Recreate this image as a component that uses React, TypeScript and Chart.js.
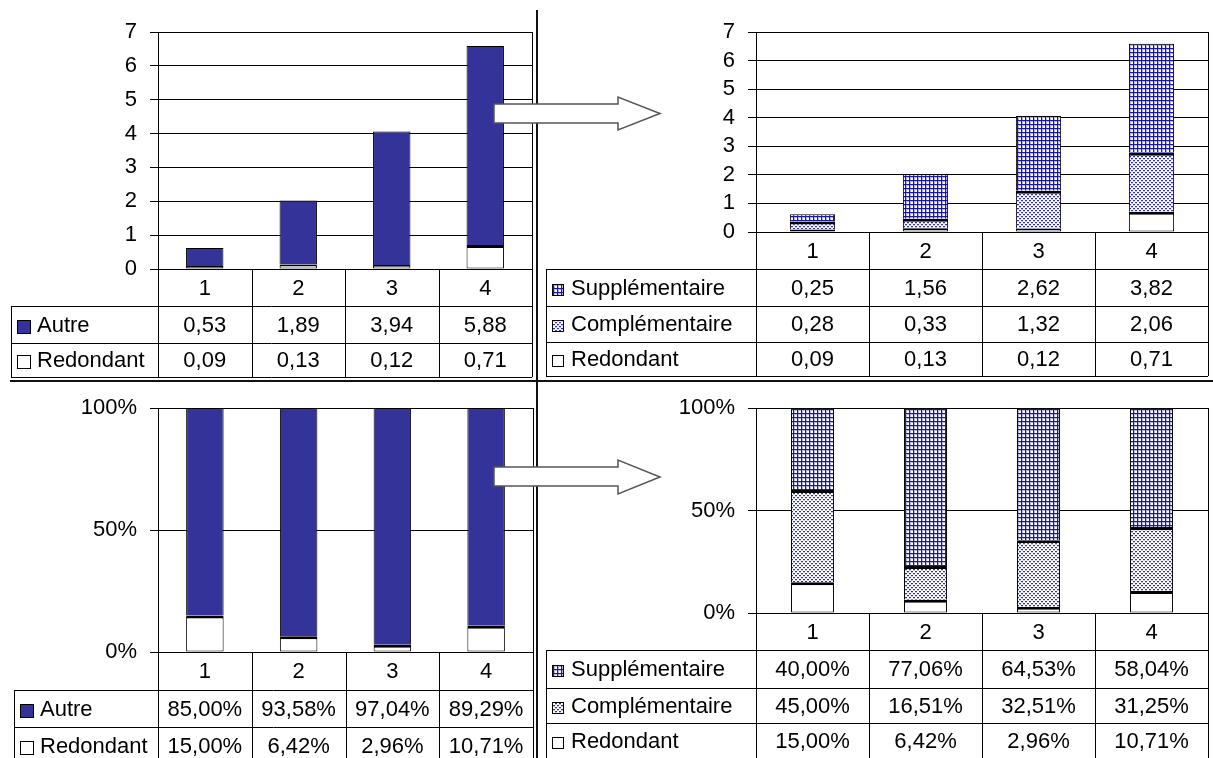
import React, { useEffect, useRef } from 'react';
import { Chart, registerables } from 'chart.js';

Chart.register(...registerables);

// ---------- data ----------
const categories = ['1', '2', '3', '4'];

const absAutre = [0.53, 1.89, 3.94, 5.88];
const absRedondant = [0.09, 0.13, 0.12, 0.71];
const absSupplementaire = [0.25, 1.56, 2.62, 3.82];
const absComplementaire = [0.28, 0.33, 1.32, 2.06];

const pctAutre = [85.0, 93.58, 97.04, 89.29];
const pctRedondant = [15.0, 6.42, 2.96, 10.71];
const pctSupplementaire = [40.0, 77.06, 64.53, 58.04];
const pctComplementaire = [45.0, 16.51, 32.51, 31.25];
const pctRedondant2 = [15.0, 6.42, 2.96, 10.71];

const absTickMax = 7;
const absTickStep = 1;
const pctTickMax = 100;
const pctTickStep = 50;

const LBL_AUTRE = 'Autre';
const LBL_RED = 'Redondant';
const LBL_SUP = 'Supplémentaire';
const LBL_COMP = 'Complémentaire';

// ---------- styling ----------
const FONT_FAMILY = '"Liberation Sans", Arial, sans-serif';
const FONT_SIZE = 22;
const NAVY = '#333399';

type Fill = 'autre' | 'white' | 'grid' | 'dots';
interface SeriesDef {
  label: string;
  values: number[];
  fill: Fill;
}
interface PanelDef {
  key: string;
  pageLeft: number;
  pageTop: number;
  width: number;
  height: number;
  axisWidth: number;
  padTop: number;
  padRight: number;
  padBottom: number;
  yMax: number;
  yStep: number;
  percent: boolean;
  series: SeriesDef[]; // bottom -> top
  tableLeft: number;
  rowHeights: number[];
  iconSize: number;
  iconGap: number;
  barPct: number;
}

const PANELS: PanelDef[] = [
  {
    key: 'tl', pageLeft: 0, pageTop: 0, width: 537, height: 381,
    axisWidth: 158, padTop: 32, padRight: 5, padBottom: 112,
    yMax: absTickMax, yStep: absTickStep, percent: false,
    series: [
      { label: LBL_RED, values: absRedondant, fill: 'white' },
      { label: LBL_AUTRE, values: absAutre, fill: 'autre' },
    ],
    tableLeft: 11, rowHeights: [37, 37, 34], iconSize: 14, iconGap: 6, barPct: 0.4,
  },
  {
    key: 'tr', pageLeft: 537, pageTop: 0, width: 676, height: 381,
    axisWidth: 219, padTop: 32, padRight: 5, padBottom: 149,
    yMax: absTickMax, yStep: absTickStep, percent: false,
    series: [
      { label: LBL_RED, values: absRedondant, fill: 'white' },
      { label: LBL_COMP, values: absComplementaire, fill: 'dots' },
      { label: LBL_SUP, values: absSupplementaire, fill: 'grid' },
    ],
    tableLeft: 9, rowHeights: [37, 37, 36, 34], iconSize: 12, iconGap: 7, barPct: 0.4,
  },
  {
    key: 'bl', pageLeft: 0, pageTop: 381, width: 537, height: 377,
    axisWidth: 158, padTop: 27, padRight: 4, padBottom: 106,
    yMax: pctTickMax, yStep: pctTickStep, percent: true,
    series: [
      { label: LBL_RED, values: pctRedondant, fill: 'white' },
      { label: LBL_AUTRE, values: pctAutre, fill: 'autre' },
    ],
    tableLeft: 14, rowHeights: [38, 37, 37], iconSize: 14, iconGap: 6, barPct: 0.4,
  },
  {
    key: 'br', pageLeft: 537, pageTop: 381, width: 676, height: 377,
    axisWidth: 219, padTop: 27, padRight: 5, padBottom: 145,
    yMax: pctTickMax, yStep: pctTickStep, percent: true,
    series: [
      { label: LBL_RED, values: pctRedondant2, fill: 'white' },
      { label: LBL_COMP, values: pctComplementaire, fill: 'dots' },
      { label: LBL_SUP, values: pctSupplementaire, fill: 'grid' },
    ],
    tableLeft: 9, rowHeights: [37, 38, 35, 35], iconSize: 12, iconGap: 7, barPct: 0.38,
  },
];

function fmtNum(v: number, percent: boolean): string {
  const s = v.toFixed(2).replace('.', ',');
  return percent ? s + '%' : s;
}

function makePatterns(): Record<Fill, string | CanvasPattern> {
  const grid = document.createElement('canvas');
  grid.width = 4;
  grid.height = 4;
  const g = grid.getContext('2d')!;
  g.fillStyle = '#ffffff';
  g.fillRect(0, 0, 4, 4);
  g.fillStyle = '#b4b4e6';
  g.fillRect(0, 1, 4, 1);
  g.fillRect(1, 0, 1, 4);
  g.fillStyle = '#1818a4';
  g.fillRect(0, 0, 4, 1);
  g.fillRect(0, 0, 1, 4);

  const dots = document.createElement('canvas');
  dots.width = 4;
  dots.height = 4;
  const d = dots.getContext('2d')!;
  d.fillStyle = '#ffffff';
  d.fillRect(0, 0, 4, 4);
  d.fillStyle = '#c4c4ee';
  d.fillRect(0, 1, 2, 1);
  d.fillRect(2, 3, 2, 1);
  d.fillStyle = '#3030bc';
  d.fillRect(0, 0, 2, 1);
  d.fillRect(2, 2, 2, 1);

  const tmp = document.createElement('canvas').getContext('2d')!;
  return {
    autre: NAVY,
    white: '#ffffff',
    grid: tmp.createPattern(grid, 'repeat')!,
    dots: tmp.createPattern(dots, 'repeat')!,
  };
}

function tablePlugin(def: PanelDef, fills: Record<Fill, string | CanvasPattern>) {
  return {
    id: 'dataTable_' + def.key,
    afterDraw(chart: any) {
      const ctx: CanvasRenderingContext2D = chart.ctx;
      const a = chart.chartArea;
      const xs = chart.scales.x;
      const n = categories.length;
      const edges: number[] = [a.left];
      for (let i = 1; i < n; i++) {
        edges.push((xs.getPixelForValue(i - 1) + xs.getPixelForValue(i)) / 2);
      }
      edges.push(a.right);
      const rowsY: number[] = [a.bottom];
      def.rowHeights.forEach((h) => rowsY.push(rowsY[rowsY.length - 1] + h));
      const bottom = rowsY[rowsY.length - 1];
      const L = def.tableLeft;
      const px = (v: number) => Math.round(v) + 0.5;

      ctx.save();
      ctx.strokeStyle = '#000';
      ctx.lineWidth = 1;
      ctx.beginPath();
      ctx.moveTo(px(a.right), a.top);
      ctx.lineTo(px(a.right), bottom);
      for (let i = 0; i < n; i++) {
        ctx.moveTo(px(edges[i]), a.bottom);
        ctx.lineTo(px(edges[i]), bottom);
      }
      ctx.moveTo(px(L), rowsY[1]);
      ctx.lineTo(px(L), bottom);
      for (let r = 1; r < rowsY.length; r++) {
        ctx.moveTo(L, px(rowsY[r]));
        ctx.lineTo(a.right, px(rowsY[r]));
      }
      ctx.stroke();

      ctx.font = `${FONT_SIZE}px ${FONT_FAMILY}`;
      ctx.fillStyle = '#000';
      ctx.textAlign = 'center';
      ctx.textBaseline = 'middle';
      categories.forEach((c, i) => {
        ctx.fillText(c, xs.getPixelForValue(i), (rowsY[0] + rowsY[1]) / 2 + 1);
      });

      const rows = [...def.series].reverse();
      rows.forEach((s, r) => {
        const yMid = (rowsY[r + 1] + rowsY[r + 2]) / 2 + 1;
        ctx.fillStyle = '#000';
        ctx.textAlign = 'center';
        s.values.forEach((v, i) => {
          ctx.fillText(fmtNum(v, def.percent), xs.getPixelForValue(i), yMid);
        });
        const sz = def.iconSize;
        const ix = Math.round(L + 6);
        const iy = Math.round(yMid - sz / 2 + 1);
        ctx.fillStyle = fills[s.fill] as any;
        ctx.fillRect(ix, iy, sz, sz);
        ctx.strokeRect(ix + 0.5, iy + 0.5, sz - 1, sz - 1);
        ctx.fillStyle = '#000';
        ctx.textAlign = 'left';
        ctx.fillText(s.label, ix + sz + def.iconGap, yMid);
      });
      ctx.restore();
    },
  };
}

function Panel({ def }: { def: PanelDef }) {
  const ref = useRef<HTMLCanvasElement>(null);
  useEffect(() => {
    const canvas = ref.current;
    if (!canvas) return;
    const fills = makePatterns();
    const last = def.series.length - 1;
    const chart = new Chart(canvas, {
      type: 'bar',
      data: {
        labels: categories,
        datasets: def.series.map((s, i) => ({
          label: s.label,
          data: s.values,
          backgroundColor: fills[s.fill] as any,
          borderColor: '#000',
          borderWidth: { top: i === last ? 1 : 3, left: 1, right: 1, bottom: i === 0 ? 1 : 0 },
          borderSkipped: false,
          inflateAmount: 0,
          barPercentage: def.barPct,
          categoryPercentage: 1,
        })),
      },
      options: {
        responsive: false,
        animation: false,
        devicePixelRatio: 1,
        events: [],
        layout: { padding: { left: 0, top: def.padTop, right: def.padRight, bottom: def.padBottom } },
        plugins: {
          legend: { display: false },
          tooltip: { enabled: false },
          title: { display: false },
        },
        scales: {
          x: { display: false, stacked: true, offset: true },
          y: {
            stacked: true,
            min: 0,
            max: def.yMax,
            afterFit: (s: any) => {
              s.width = def.axisWidth;
            },
            ticks: {
              stepSize: def.yStep,
              autoSkip: false,
              padding: 13,
              color: '#000',
              font: { family: FONT_FAMILY, size: FONT_SIZE },
              callback: (v: any) => (def.percent ? `${v}%` : `${v}`),
            },
            grid: { color: '#000', lineWidth: 1, tickLength: 8, drawTicks: true },
            border: { display: true, color: '#000', width: 1 },
          },
        },
      } as any,
      plugins: [tablePlugin(def, fills)],
    });
    return () => chart.destroy();
  }, [def]);
  return (
    <canvas
      ref={ref}
      width={def.width}
      height={def.height}
      style={{
        position: 'absolute',
        left: def.pageLeft,
        top: def.pageTop,
        width: def.width,
        height: def.height,
        display: 'block',
      }}
    />
  );
}

export default function App() {
  return (
    <div
      style={{
        position: 'fixed',
        left: 0,
        top: 0,
        width: 1213,
        height: 758,
        background: '#fff',
        overflow: 'hidden',
      }}
    >
      {PANELS.map((p) => (
        <Panel key={p.key} def={p} />
      ))}
      <svg
        width={1213}
        height={758}
        style={{ position: 'absolute', left: 0, top: 0, pointerEvents: 'none' }}
      >
        <line x1={537} y1={10} x2={537} y2={758} stroke="#111" strokeWidth={2} />
        <line x1={10} y1={381} x2={1213} y2={381} stroke="#111" strokeWidth={2} />
        <path
          d="M494,104 L618,104 L618,97 L660,113.5 L618,130 L618,123 L494,123 Z"
          fill="#fff"
          stroke="#555"
          strokeWidth={1.5}
        />
        <path
          d="M494,467 L618,467 L618,460 L660,477 L618,494 L618,486 L494,486 Z"
          fill="#fff"
          stroke="#555"
          strokeWidth={1.5}
        />
      </svg>
    </div>
  );
}
